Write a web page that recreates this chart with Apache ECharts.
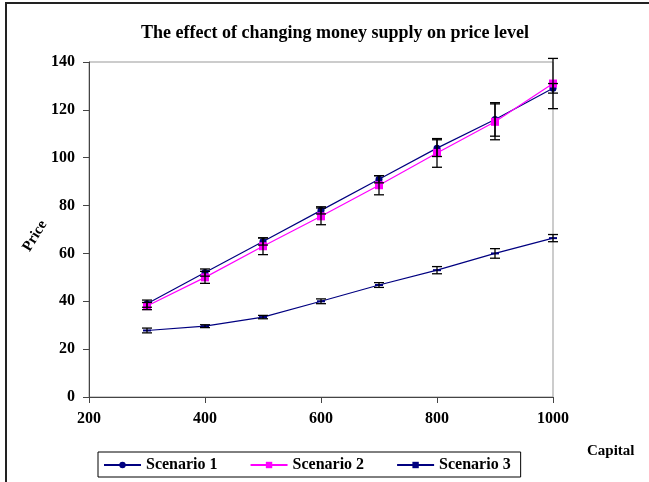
<!DOCTYPE html>
<html>
<head>
<meta charset="utf-8">
<script src="https://cdn.jsdelivr.net/npm/echarts@6/dist/echarts.min.js"></script>
<style>html,body{margin:0;padding:0;background:#fff}#c{width:649px;height:482px}</style>
</head>
<body>
<div id="c"></div>
<script>
var capital = [300, 400, 500, 600, 700, 800, 900, 1000];
var scenario1 = [39, 52, 65, 78, 91, 104, 116, 129];
var scenario1Err = [1.5, 1.5, 1.5, 1.5, 1.5, 3.5, 7, 2];
var scenario2 = [38, 50, 63, 75.5, 88.5, 102, 115, 131];
var scenario2Err = [1.5, 2.5, 3.5, 3.5, 4, 6, 7.5, 10.5];
var scenario3 = [27.8, 29.6, 33.4, 40, 46.8, 53, 60, 66.4];
var scenario3Err = [1, 0.6, 0.7, 1, 1, 1.5, 2, 1.5];
var seriesNames = ['Scenario 1', 'Scenario 2', 'Scenario 3'];
var xTicks = [200, 400, 600, 800, 1000];
var yTicks = [0, 20, 40, 60, 80, 100, 120, 140];

var FONT = '"Liberation Serif", "DejaVu Serif", serif';
function pairs(vals) { return capital.map(function (c, i) { return [c, vals[i]]; }); }
function errData(vals, errs) { return capital.map(function (c, i) { return [c, vals[i], errs[i]]; }); }
function errSeries(vals, errs, name) {
  return {
    type: 'custom', name: name + ' err', z: 5, silent: true,
    data: errData(vals, errs),
    renderItem: function (params, api) {
      var x = api.value(0), v = api.value(1), e = api.value(2);
      var top = api.coord([x, v + e]);
      var bot = api.coord([x, v - e]);
      var hw = 5;
      var st = { stroke: '#000', lineWidth: 1.3 };
      return {
        type: 'group',
        children: [
          { type: 'line', shape: { x1: top[0], y1: top[1], x2: bot[0], y2: bot[1] }, style: st },
          { type: 'line', shape: { x1: top[0] - hw, y1: top[1], x2: top[0] + hw, y2: top[1] }, style: st },
          { type: 'line', shape: { x1: bot[0] - hw, y1: bot[1], x2: bot[0] + hw, y2: bot[1] }, style: st }
        ]
      };
    }
  };
}

var chart = echarts.init(document.getElementById('c'));
chart.setOption({
  animation: false,
  backgroundColor: '#fff',
  title: {
    text: 'The effect of changing money supply on price level',
    left: 330, top: 19, textAlign: 'center',
    textStyle: { fontFamily: FONT, fontSize: 18, fontWeight: 'bold', color: '#000' }
  },
  grid: { left: 89, right: 96, top: 62, bottom: 85, show: true, borderColor: '#999', borderWidth: 1 },
  xAxis: {
    type: 'value', min: 200, max: 1000, interval: 200,
    axisLine: { lineStyle: { color: '#444', width: 1 } },
    axisTick: { show: true, length: 6, lineStyle: { color: '#444' } },
    splitLine: { show: false },
    axisLabel: { margin: 14, fontFamily: FONT, fontSize: 16, fontWeight: 'bold', color: '#000',
      formatter: function (v) { return String(v); } }
  },
  yAxis: {
    type: 'value', min: 0, max: 140, interval: 20,
    axisLine: { show: true, lineStyle: { color: '#444', width: 1 } },
    axisTick: { show: true, length: 6, lineStyle: { color: '#444' } },
    splitLine: { show: false },
    axisLabel: { margin: 14, fontFamily: FONT, fontSize: 16, fontWeight: 'bold', color: '#000' }
  },
  legend: {
    data: seriesNames,
    left: 98, top: 452, width: 440,
    padding: [5, 10, 4, 5],
    itemGap: 32, itemWidth: 37, itemHeight: 8,
    borderColor: '#000', borderWidth: 1,
    textStyle: { fontFamily: FONT, fontSize: 16, fontWeight: 'bold', color: '#000' }
  },
  graphic: [
    { type: 'polyline', shape: { points: [[6, 482], [6, 3], [649, 3]] }, style: { stroke: '#222', lineWidth: 2, fill: null } },
    { type: 'text', left: 587, top: 444, style: { text: 'Capital', font: 'bold 15px ' + FONT, fill: '#000' } },
    { type: 'text', x: 35, y: 236, rotation: Math.PI * 58 / 180, style: { text: 'Price', font: 'bold 15px ' + FONT, fill: '#000', align: 'center', verticalAlign: 'middle' } }
  ],
  series: [
    { name: seriesNames[0], type: 'line', data: pairs(scenario1), symbol: 'circle', symbolSize: 7, z: 3,
      lineStyle: { color: '#000080', width: 1.2 }, itemStyle: { color: '#000080' } },
    { name: seriesNames[1], type: 'line', data: pairs(scenario2), symbol: 'rect', symbolSize: 8, z: 4,
      lineStyle: { color: '#ff00ff', width: 1.2 }, itemStyle: { color: '#ff00ff' } },
    { name: seriesNames[2], type: 'line', data: pairs(scenario3), symbol: 'rect', symbolSize: [8, 2], z: 3,
      lineStyle: { color: '#000080', width: 1.2 }, itemStyle: { color: '#000080' } },
    errSeries(scenario1, scenario1Err, seriesNames[0]),
    errSeries(scenario2, scenario2Err, seriesNames[1]),
    errSeries(scenario3, scenario3Err, seriesNames[2])
  ]
});
</script>
</body>
</html>
